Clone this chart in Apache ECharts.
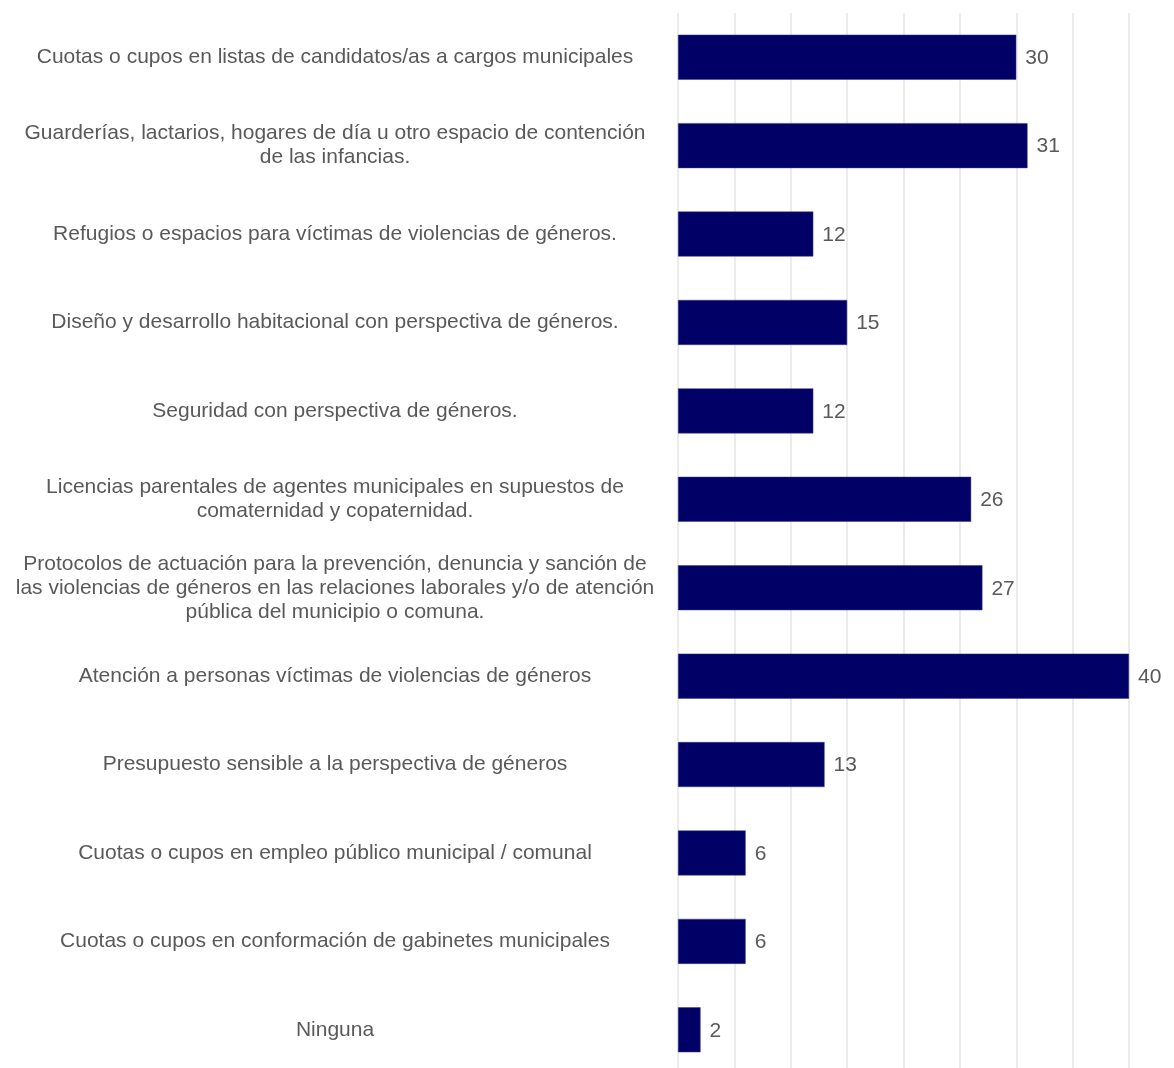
<!DOCTYPE html>
<html><head><meta charset="utf-8">
<script src="https://cdn.jsdelivr.net/npm/echarts@6/dist/echarts.min.js"></script>
<style>html,body{margin:0;padding:0;background:#fff;overflow:hidden}#c{width:1174px;height:1080px}</style>
</head><body><div id="c"></div>
<script>
const categories = [
  "Cuotas o cupos en listas de candidatos/as a cargos municipales",
  "Guarderías, lactarios, hogares de día u otro espacio de contención\nde las infancias.",
  "Refugios o espacios para víctimas de violencias de géneros.",
  "Diseño y desarrollo habitacional con perspectiva de géneros.",
  "Seguridad con perspectiva de géneros.",
  "Licencias parentales de agentes municipales en supuestos de\ncomaternidad y copaternidad.",
  "Protocolos de actuación para la prevención, denuncia y sanción de\nlas violencias de géneros en las relaciones laborales y/o de atención\npública del municipio o comuna.",
  "Atención a personas víctimas de violencias de géneros",
  "Presupuesto sensible a la perspectiva de géneros",
  "Cuotas o cupos en empleo público municipal / comunal",
  "Cuotas o cupos en conformación de gabinetes municipales",
  "Ninguna"
];
const values = [30, 31, 12, 15, 12, 26, 27, 40, 13, 6, 6, 2];

const chart = echarts.init(document.getElementById('c'));
chart.setOption({
  animation: false,
  grid: { left: 678, right: 45, top: 13, height: 1061, containLabel: false },
  xAxis: {
    type: 'value', min: 0, max: 40, interval: 5,
    axisLabel: { show: false }, axisLine: { show: false }, axisTick: { show: false },
    splitLine: { show: true, lineStyle: { color: '#e4e4e4', width: 1.5 } }
  },
  yAxis: {
    type: 'category', data: categories, inverse: true,
    axisLine: { show: false }, axisTick: { show: false },
    axisLabel: {
      margin: 343, align: 'center', color: '#595959',
      fontFamily: 'Liberation Sans, Arial', fontSize: 21, lineHeight: 24
    }
  },
  series: [{
    type: 'bar', data: values, barWidth: 45,
    itemStyle: { color: '#000066', borderColor: '#3a3a8a', borderWidth: 0.5 },
    label: { show: true, position: 'right', distance: 9, color: '#595959',
      fontFamily: 'Liberation Sans, Arial', fontSize: 21, offset: [0, 1] }
  }]
});
</script></body></html>
